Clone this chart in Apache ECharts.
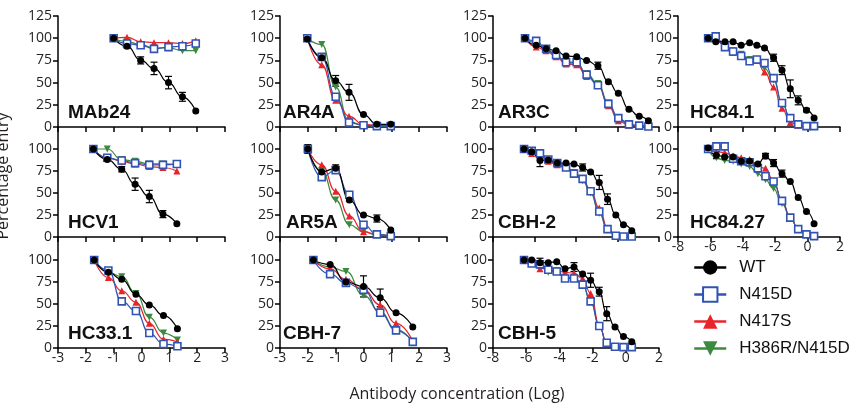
<!DOCTYPE html>
<html>
<head>
<meta charset="utf-8">
<script src="https://cdn.jsdelivr.net/npm/echarts/dist/echarts.min.js"></script>
<style>
  html, body { margin: 0; padding: 0; background: #fff; }
  #main { width: 858px; height: 404px; }
</style>
</head>
<body>
<div id="main"></div>
<script>
// groups and tick labels
var groups = ['WT', 'N415D', 'N417S', 'H386R/N415D'];
var xTicksNarrow = [-3, -2, -1, 0, 1, 2, 3];
var xTicksWide = [-8, -6, -4, -2, 0, 2];
var xTicksSparse = [-8, -5.5, -3, -0.5, 2];
var yTicks = [0, 25, 50, 75, 100, 125];

// MAb24
var mab24X   = [-1.0, -0.52, -0.03, 0.45, 0.97, 1.47, 1.95];
var mab24WT  = [100, 91, 75, 66, 50, 34, 18];
var mab24Err = [0, 2, 4, 7, 7, 5, 0];
var mab24D   = [100, 94, 92, 88, 90, 91, 94];
var mab24S   = [100, 101, 96, 95, 95, 94, 97];
var mab24R   = [100, 96, 93, 89, 89, 86, 86];

// AR4A
var ar4aX   = [-2.02, -1.5, -1.0, -0.52, 0.0, 0.48, 0.98];
var ar4aWT  = [99, 78, 52, 39, 14, 3, 3];
var ar4aErr = [0, 0, 6, 9, 0, 0, 0];
var ar4aD   = [100, 79, 34, 5, 2, 1, 1];
var ar4aS   = [100, 70, 30, 12, 3, 2, 1];
var ar4aR   = [100, 93, 45, 6, 2, 1, 1];

// AR3C
var ar3cX   = [-6.07, -5.4, -4.8, -4.2, -3.6, -2.96, -2.36, -1.68, -1.05, -0.45, 0.19, 0.81, 1.36];
var ar3cWT  = [100, 92, 88, 86, 80, 79, 75, 69, 51, 38, 20, 12, 7];
var ar3cErr = [0, 0, 0, 0, 0, 0, 0, 4, 0, 0, 0, 0, 0];
var ar3cD   = [100, 97, 88, 81, 73, 73, 59, 47, 26, 10, 3, 1.5, 0.5];
var ar3cS   = [100, 90, 86, 79, 71, 70, 57, 48, 24, 7, 2, 1, 0.5];
var ar3cR   = [100, 95, 88, 80, 72, 72, 60, 49, 27, 10, 3, 1, 0.5];

// HC84.1
var hc841X   = [-6.14, -5.67, -5.1, -4.6, -4.1, -3.58, -3.13, -2.66, -2.1, -1.58, -1.07, -0.58, -0.07, 0.4];
var hc841WT  = [100, 96, 96, 96, 92, 95, 92, 89, 78, 64, 43, 30, 19, 10];
var hc841Err = [0, 0, 0, 0, 0, 0, 0, 0, 4, 5, 10, 5, 2, 0];
var hc841D   = [100, 102, 90, 85, 80, 74, 76, 72, 55, 27, 10, 3, 1, 1];
var hc841S   = [100, 102, 90, 84, 80, 74, 75, 62, 45, 21, 5, 2, 1, 1];
var hc841R   = [100, 97, 92, 86, 82, 76, 76, 66, 53, 27, 10, 3, 1, 1];

// HCV1
var hcv1X   = [-1.73, -1.23, -0.71, -0.23, 0.28, 0.77, 1.27];
var hcv1WT  = [100, 88, 77, 60, 46, 26, 15];
var hcv1Err = [0, 0, 3, 7, 7, 4, 0];
var hcv1D   = [100, 90, 87, 84, 82, 82, 83];
var hcv1S   = [100, 90, 86, 83, 80, 79, 75];
var hcv1R   = [100, 100, 88, 86, 83, 83, 82];

// AR5A
var ar5aX   = [-2.0, -1.5, -1.0, -0.51, 0.0, 0.48, 0.98];
var ar5aWT  = [100, 74, 78, 42, 25, 21, 8];
var ar5aErr = [5, 0, 4, 0, 0, 4, 0];
var ar5aD   = [100, 68, 76, 48, 14, 3, 1];
var ar5aS   = [100, 82, 52, 24, 6, 3, 1];
var ar5aR   = [100, 75, 42, 14, 6, 2, 1];

// CBH-2
var cbh2X   = [-6.13, -5.67, -5.17, -4.67, -4.13, -3.6, -3.12, -2.6, -2.12, -1.6, -1.1, -0.6, -0.14, 0.36];
var cbh2WT  = [100, 97, 87, 87.5, 84, 84, 83, 79, 74, 62, 43, 25, 14, 7];
var cbh2Err = [0, 3, 7, 0, 0, 0, 0, 4, 0, 8, 6, 0, 0, 0];
var cbh2D   = [100, 98, 95, 88, 84, 79, 72, 66, 52, 29, 9, 1.5, 0.5, 0.5];
var cbh2S   = [100, 95, 92, 86, 82, 80, 74, 66, 53, 33, 10, 2, 1, 0.5];
var cbh2R   = [100, 98, 94, 86, 82, 78, 73, 64, 50, 27, 8, 1.5, 0.5, 0.5];

// HC84.27
var hc8427X   = [-6.14, -5.63, -5.12, -4.6, -4.1, -3.58, -3.07, -2.6, -2.1, -1.58, -1.07, -0.58, -0.07, 0.4];
var hc8427WT  = [101, 93, 91, 91, 86, 86, 83, 92, 84, 72, 63, 45, 29, 15];
var hc8427Err = [0, 4, 0, 0, 0, 0, 0, 3, 4, 4, 0, 0, 0, 0];
var hc8427D   = [100, 103, 103, 89, 86, 85, 78, 69, 63, 41, 22, 9, 3, 1];
var hc8427S   = [100, 97, 96, 92, 90, 88, 80, 78, 63, 41, 22, 9, 3, 1];
var hc8427R   = [100, 90, 87, 86, 83, 80, 72, 65, 55, 38, 22, 9, 3, 1];

// HC33.1
var hc331X   = [-1.7, -1.19, -0.71, -0.2, 0.28, 0.79, 1.29];
var hc331WT  = [100, 86, 78, 61, 49, 37, 22];
var hc331Err = [0, 0, 0, 0, 0, 0, 0];
var hc331D   = [100, 88, 53, 42, 17, 4.5, 2];
var hc331S   = [100, 80, 65, 52, 28, 10, 7];
var hc331R   = [100, 86, 81, 62, 35, 17, 9];

// CBH-7
var cbh7X   = [-1.8, -1.2, -0.63, 0.0, 0.6, 1.17, 1.77];
var cbh7WT  = [100, 95, 75, 70, 57, 40, 24];
var cbh7Err = [0, 0, 0, 12, 10, 0, 0];
var cbh7D   = [100, 84, 74, 66, 40, 20, 7];
var cbh7S   = [100, 90, 78, 66, 49, 28, 8];
var cbh7R   = [100, 92, 87, 60, 41, 21, 7];

// CBH-5
var cbh5X   = [-6.13, -5.67, -5.17, -4.67, -4.16, -3.66, -3.12, -2.6, -2.12, -1.6, -1.15, -0.65, -0.14, 0.36];
var cbh5WT  = [100, 100, 97, 97, 98, 90, 92, 84, 77, 64, 39, 24, 13, 7];
var cbh5Err = [0, 0, 5, 0, 0, 0, 5, 0, 8, 5, 8, 0, 0, 0];
var cbh5D   = [100, 96, 95, 89, 87, 79, 79, 72, 53, 25, 6, 1.5, 1, 1];
var cbh5S   = [100, 96, 90, 93, 88, 86, 85, 79, 62, 26, 5, 1.5, 1, 1];
var cbh5R   = [100, 97, 93, 86, 88, 80, 80, 72, 53, 25, 6, 1.5, 1, 1];

// layout of the panels (col, row, label offset)
var colLeft = [58, 280, 493, 678];
var colWidth = [167, 167, 166, 162];
var rowTop = [16, 127, 238];
var rowHeight = [111, 110, 110];

var panels = [
  { name: 'MAb24',   col: 0, row: 0, ticks: xTicksNarrow, labels: false, lx: 10, x: mab24X, wt: mab24WT, err: mab24Err, d: mab24D, s: mab24S, r: mab24R },
  { name: 'AR4A',    col: 1, row: 0, ticks: xTicksNarrow, labels: false, lx: 3,  x: ar4aX, wt: ar4aWT, err: ar4aErr, d: ar4aD, s: ar4aS, r: ar4aR },
  { name: 'AR3C',    col: 2, row: 0, ticks: xTicksSparse, labels: false, lx: 5,  x: ar3cX, wt: ar3cWT, err: ar3cErr, d: ar3cD, s: ar3cS, r: ar3cR },
  { name: 'HC84.1',  col: 3, row: 0, ticks: xTicksWide,   labels: false, lx: 12, x: hc841X, wt: hc841WT, err: hc841Err, d: hc841D, s: hc841S, r: hc841R },
  { name: 'HCV1',    col: 0, row: 1, ticks: xTicksNarrow, labels: false, lx: 10, x: hcv1X, wt: hcv1WT, err: hcv1Err, d: hcv1D, s: hcv1S, r: hcv1R },
  { name: 'AR5A',    col: 1, row: 1, ticks: xTicksNarrow, labels: false, lx: 6,  x: ar5aX, wt: ar5aWT, err: ar5aErr, d: ar5aD, s: ar5aS, r: ar5aR },
  { name: 'CBH-2',   col: 2, row: 1, ticks: xTicksSparse, labels: false, lx: 5,  x: cbh2X, wt: cbh2WT, err: cbh2Err, d: cbh2D, s: cbh2S, r: cbh2R },
  { name: 'HC84.27', col: 3, row: 1, ticks: xTicksWide,   labels: true,  lx: 12, x: hc8427X, wt: hc8427WT, err: hc8427Err, d: hc8427D, s: hc8427S, r: hc8427R },
  { name: 'HC33.1',  col: 0, row: 2, ticks: xTicksNarrow, labels: true,  lx: 10, x: hc331X, wt: hc331WT, err: hc331Err, d: hc331D, s: hc331S, r: hc331R },
  { name: 'CBH-7',   col: 1, row: 2, ticks: xTicksNarrow, labels: true,  lx: 3,  x: cbh7X, wt: cbh7WT, err: cbh7Err, d: cbh7D, s: cbh7S, r: cbh7R },
  { name: 'CBH-5',   col: 2, row: 2, ticks: xTicksWide,   labels: true,  lx: 5,  x: cbh5X, wt: cbh5WT, err: cbh5Err, d: cbh5D, s: cbh5S, r: cbh5R }
];

var groupStyle = {
  'WT':          { symbol: 'circle',   rotate: 0,   color: '#000000', fill: '#000000', size: 7 },
  'N415D':       { symbol: 'rect',     rotate: 0,   color: '#3153b3', fill: '#ffffff', size: 7 },
  'N417S':       { symbol: 'triangle', rotate: 0,   color: '#e8232a', fill: '#e8232a', size: 7 },
  'H386R/N415D': { symbol: 'triangle', rotate: 180, color: '#3b8a3e', fill: '#3b8a3e', size: 7 }
};

var tickFont = { fontFamily: 'Open Sans', fontSize: 14, color: '#231f20' };

function pairs(xs, ys) {
  return xs.map(function (v, i) { return [v, ys[i]]; });
}

function lineSeries(i, name, xs, ys) {
  var st = groupStyle[name];
  return {
    name: name,
    type: 'line',
    xAxisIndex: i,
    yAxisIndex: i,
    data: pairs(xs, ys),
    smooth: 0.5,
    smoothMonotone: 'x',
    symbol: st.symbol,
    symbolRotate: st.rotate,
    symbolSize: st.size,
    lineStyle: { color: st.color, width: 1.2 },
    itemStyle: { color: st.fill, borderColor: st.color, borderWidth: name == 'N415D' ? 1.6 : 0 }
  };
}

// error bars for WT
function renderErr(params, api) {
  var x = api.value(0);
  var top = api.coord([x, api.value(2)]);
  var bot = api.coord([x, api.value(1)]);
  var w = 3.5;
  var st = { stroke: '#000', lineWidth: 1.2 };
  return {
    type: 'group',
    children: [
      { type: 'line', shape: { x1: top[0], y1: top[1], x2: bot[0], y2: bot[1] }, style: st },
      { type: 'line', shape: { x1: top[0] - w, y1: top[1], x2: top[0] + w, y2: top[1] }, style: st },
      { type: 'line', shape: { x1: bot[0] - w, y1: bot[1], x2: bot[0] + w, y2: bot[1] }, style: st }
    ]
  };
}

var grids = [], xAxes = [], yAxes = [], series = [], graphics = [];

panels.forEach(function (p, i) {
  grids.push({ left: colLeft[p.col], top: rowTop[p.row], width: colWidth[p.col], height: rowHeight[p.row] });
  var t = p.ticks;
  xAxes.push({
    type: 'value', gridIndex: i,
    min: t[0], max: t[t.length - 1], interval: t[1] - t[0],
    axisLine: { onZero: false, lineStyle: { color: '#000', width: 1.5 } },
    axisTick: { show: true, length: 5, lineStyle: { color: '#000', width: 1.5 } },
    axisLabel: Object.assign({ show: p.labels, margin: 3 }, tickFont),
    splitLine: { show: false }
  });
  yAxes.push({
    type: 'value', gridIndex: i,
    min: yTicks[0], max: yTicks[yTicks.length - 1], interval: yTicks[1] - yTicks[0],
    axisLine: { show: true, onZero: false, lineStyle: { color: '#000', width: 1.5 } },
    axisTick: { show: true, length: 5, lineStyle: { color: '#000', width: 1.5 } },
    axisLabel: Object.assign({ margin: 6, showMaxLabel: p.row == 0 }, tickFont),
    splitLine: { show: false }
  });

  series.push(lineSeries(i, 'H386R/N415D', p.x, p.r));
  series.push(lineSeries(i, 'N417S', p.x, p.s));
  series.push(lineSeries(i, 'N415D', p.x, p.d));

  var errData = [];
  p.err.forEach(function (e, j) {
    if (e > 0) errData.push([p.x[j], p.wt[j] - e, p.wt[j] + e]);
  });
  series.push({
    type: 'custom',
    xAxisIndex: i,
    yAxisIndex: i,
    renderItem: renderErr,
    data: errData,
    z: 3
  });
  series.push(lineSeries(i, 'WT', p.x, p.wt));

  graphics.push({
    type: 'text',
    left: colLeft[p.col] + p.lx,
    top: rowTop[p.row] + rowHeight[p.row] - 24,
    style: { text: p.name, font: 'bold 19px "Liberation Sans"', fill: '#111' },
    z: 10
  });
});

graphics.push({
  type: 'text',
  x: 457, y: 394,
  style: { text: 'Antibody concentration (Log)', font: '16px "Open Sans"', fill: '#231f20', textAlign: 'center', textVerticalAlign: 'middle' }
});
graphics.push({
  type: 'text',
  x: 3, y: 176,
  rotation: Math.PI / 2,
  style: { text: 'Percentage entry', font: '16px "Open Sans"', fill: '#231f20', textAlign: 'center', textVerticalAlign: 'middle' }
});

var myChart = echarts.init(document.getElementById('main'));

var option = {
  animation: false,
  backgroundColor: '#fff',
  grid: grids,
  xAxis: xAxes,
  yAxis: yAxes,
  series: series,
  graphic: graphics,
  legend: {
    data: groups,
    orient: 'vertical',
    left: 688,
    top: 254,
    itemWidth: 32,
    itemHeight: 18,
    itemGap: 10,
    lineStyle: { width: 2.5 },
    textStyle: { fontFamily: 'Liberation Sans', fontSize: 17, color: '#111', padding: [0, 0, 0, 8] }
  }
};

myChart.setOption(option);
</script>
</body>
</html>
